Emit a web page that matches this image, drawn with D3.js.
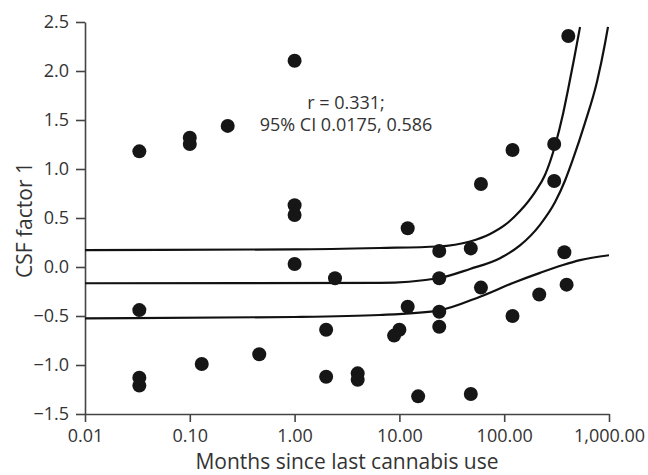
<html><head>
<meta charset="utf-8">
<script src="https://d3js.org/d3.v7.min.js"></script>
<style>
  body { margin: 0; background: #fff; }
  svg text { font-family: "Open Sans", "Noto Sans", sans-serif; fill: #333; }
  .axis path, .axis line { stroke: #444; stroke-width: 1.6; }
  .axis text { font-size: 18px; fill: #333; }
</style>
</head>
<body>
<svg id="chart" width="648" height="475"></svg>
<script>

// observed points (months since last use, CSF factor 1)
const months = [0.033, 0.033, 0.033, 0.033, 0.1, 0.1, 0.13, 0.23, 1.0, 1.0, 1.0, 1.0,
                2.43, 2.0, 2.0, 4.0, 4.0, 0.46, 8.9, 10.0, 12.0, 12.0, 15.1,
                24, 24, 24, 24, 48, 48, 60, 60, 120, 120, 216, 300, 300, 375, 394, 409];
const csf = [1.18, -0.44, -1.13, -1.21, 1.32, 1.255, -0.99, 1.44, 2.105, 0.63, 0.53, 0.03,
             -0.115, -0.64, -1.12, -1.085, -1.15, -0.89, -0.70, -0.64, 0.395, -0.405, -1.32,
             0.163, -0.115, -0.456, -0.61, 0.19, -1.296, 0.847, -0.21, 1.194, -0.5, -0.28, 1.255, 0.878, 0.15, -0.18, 2.357];

// regression line and 95% band
const fitMonths = [0.01, 6.5, 23.3, 47.2, 91.2, 141.5, 219.6, 305, 380, 453, 590, 768, 916, 978];
const fitValue  = [-0.166, -0.163, -0.115, -0.02, 0.09, 0.22, 0.43, 0.66, 0.88, 1.10, 1.47, 1.89, 2.28, 2.45];

const upperMonths = [0.01, 1, 6.5, 23.3, 47.2, 73.3, 101.8, 141.5, 196.8, 245, 305, 364, 406, 464, 529];
const upperValue  = [0.173, 0.18, 0.194, 0.209, 0.26, 0.337, 0.429, 0.571, 0.765, 0.939, 1.235, 1.561, 1.806, 2.122, 2.449];

const lowerMonths = [0.01, 1, 6.5, 23.3, 58.8, 121, 219.6, 364, 529, 1000];
const lowerValue  = [-0.524, -0.51, -0.49, -0.445, -0.303, -0.163, -0.06, 0.02, 0.07, 0.12];

const xTicks = [0.01, 0.1, 1, 10, 100, 1000];
const yTicks = [-1.5, -1.0, -0.5, 0.0, 0.5, 1.0, 1.5, 2.0, 2.5];

const annotation = ["r = 0.331;", "95% CI 0.0175, 0.586"];

let svg = d3.select("#chart");

let xScale = d3.scaleLog().domain([0.01, 1000]).range([85, 609]);
let yScale = d3.scaleLinear().domain([-1.5, 2.5]).range([414, 22]);

// clip the curves to the plot area
svg.append("clipPath").attr("id", "plotclip")
   .append("rect")
   .attr("x", 85).attr("y", 22).attr("width", 524).attr("height", 392);

// axes
let xAxis = d3.axisBottom(xScale)
              .tickValues(xTicks)
              .tickFormat(d3.format(",.2f"))
              .tickSize(8)
              .tickSizeOuter(0)
              .tickPadding(7);
svg.append("g").attr("class", "axis")
   .attr("transform", "translate(0,414)")
   .call(xAxis);

let yAxis = d3.axisLeft(yScale)
              .tickValues(yTicks)
              .tickFormat(d3.format(".1f"))
              .tickSize(9)
              .tickSizeOuter(0)
              .tickPadding(7);
svg.append("g").attr("class", "axis")
   .attr("transform", "translate(85,0)")
   .call(yAxis);

// axis titles
svg.append("text")
   .attr("x", 347).attr("y", 469)
   .attr("text-anchor", "middle")
   .style("font-size", "21px")
   .text("Months since last cannabis use");

svg.append("text")
   .attr("transform", "translate(32,220) rotate(-90)")
   .attr("text-anchor", "middle")
   .style("font-size", "21px")
   .text("CSF factor 1");

// curves
let lineGen = d3.line()
                .x(d => xScale(d[0]))
                .y(d => yScale(d[1]))
                .curve(d3.curveMonotoneX);

let curves = [
  d3.zip(lowerMonths, lowerValue),
  d3.zip(fitMonths, fitValue),
  d3.zip(upperMonths, upperValue)
];

svg.append("g").attr("clip-path", "url(#plotclip)")
   .selectAll("path.fit").data(curves)
   .join("path")
   .attr("class", "fit")
   .attr("fill", "none")
   .attr("stroke", "#111")
   .attr("stroke-width", 2.2)
   .attr("d", lineGen);

// points
svg.append("g")
   .selectAll("circle").data(d3.zip(months, csf))
   .join("circle")
   .attr("cx", d => xScale(d[0]))
   .attr("cy", d => yScale(d[1]))
   .attr("r", 7)
   .attr("fill", "#161616");

// annotation, one text per line
svg.append("g")
   .selectAll("text").data(annotation)
   .join("text")
   .attr("x", 346)
   .attr("y", (d, i) => 109 + i * 22)
   .attr("text-anchor", "middle")
   .style("font-size", "18px")
   .text(d => d);

</script>
</body>
</html>
